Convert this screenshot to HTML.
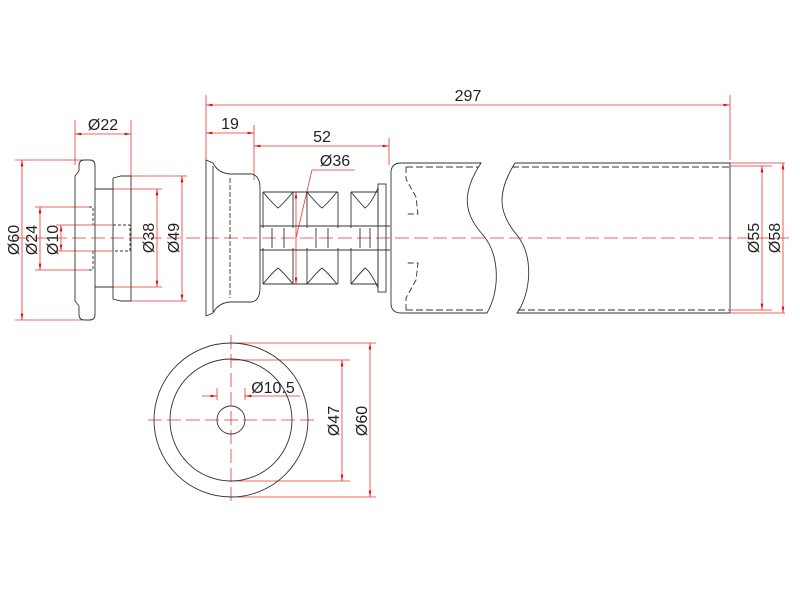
<!DOCTYPE html>
<html><head><style>body{margin:0;background:#fff}svg{display:block}</style></head><body>
<svg width="800" height="600" viewBox="0 0 800 600" xmlns="http://www.w3.org/2000/svg" font-family="Liberation Sans, sans-serif">
<defs>
<marker id="a" viewBox="0 0 10 10" refX="10" refY="5" markerWidth="8" markerHeight="8" orient="auto-start-reverse"><path d="M0,3 L10,5 L0,7z" fill="#e00"/></marker>
</defs>
<g stroke="#e33" stroke-width="0.8" fill="none">
<line x1="15" y1="238" x2="790" y2="238" stroke-dasharray="14,5"/>
<line x1="148" y1="420" x2="315" y2="420" stroke-dasharray="14,5"/>
<line x1="231" y1="335" x2="231" y2="505" stroke-dasharray="14,5"/>
<line x1="206" y1="95" x2="206" y2="160"/><line x1="730" y1="95" x2="730" y2="160"/>
<line x1="254" y1="125" x2="254" y2="180"/><line x1="389" y1="138" x2="389" y2="165"/>
<line x1="75" y1="120" x2="75" y2="165"/><line x1="131" y1="120" x2="131" y2="176"/>
<line x1="15" y1="160" x2="82" y2="160"/><line x1="15" y1="320" x2="82" y2="320"/>
<line x1="35" y1="207" x2="90" y2="207"/><line x1="35" y1="270" x2="90" y2="270"/>
<line x1="56" y1="225" x2="112" y2="225"/><line x1="56" y1="251" x2="112" y2="251"/>
<line x1="113" y1="189" x2="162" y2="189"/><line x1="113" y1="287" x2="162" y2="287"/>
<line x1="131" y1="176" x2="187" y2="176"/><line x1="131" y1="301" x2="187" y2="301"/>
<line x1="730" y1="166" x2="772" y2="166"/><line x1="730" y1="310" x2="772" y2="310"/>
<line x1="730" y1="163" x2="785" y2="163"/><line x1="730" y1="313" x2="785" y2="313"/>
<line x1="231" y1="343" x2="376" y2="343"/><line x1="231" y1="497" x2="376" y2="497"/>
<line x1="231" y1="360" x2="350" y2="360"/><line x1="231" y1="481" x2="350" y2="481"/>
<line x1="202" y1="396" x2="217" y2="396" marker-end="url(#a)"/>
<line x1="300" y1="396" x2="245" y2="396" marker-end="url(#a)"/>
<line x1="217" y1="388" x2="217" y2="400"/><line x1="245" y1="388" x2="245" y2="400"/>
<line x1="296" y1="238" x2="312" y2="170"/><line x1="312" y1="170" x2="355" y2="170"/>
<line x1="206" y1="105" x2="730" y2="105" marker-start="url(#a)" marker-end="url(#a)"/>
<line x1="206" y1="133" x2="254" y2="133" marker-start="url(#a)" marker-end="url(#a)"/>
<line x1="254" y1="146" x2="389" y2="146" marker-start="url(#a)" marker-end="url(#a)"/>
<line x1="75" y1="134" x2="131" y2="134" marker-start="url(#a)" marker-end="url(#a)"/>
<line x1="22" y1="160" x2="22" y2="320" marker-start="url(#a)" marker-end="url(#a)"/>
<line x1="40" y1="207" x2="40" y2="270" marker-start="url(#a)" marker-end="url(#a)"/>
<line x1="61" y1="225" x2="61" y2="251" marker-start="url(#a)" marker-end="url(#a)"/>
<line x1="157" y1="189" x2="157" y2="287" marker-start="url(#a)" marker-end="url(#a)"/>
<line x1="182" y1="176" x2="182" y2="301" marker-start="url(#a)" marker-end="url(#a)"/>
<line x1="296" y1="192" x2="296" y2="284" marker-start="url(#a)" marker-end="url(#a)"/>
<line x1="762" y1="166" x2="762" y2="310" marker-start="url(#a)" marker-end="url(#a)"/>
<line x1="783" y1="163" x2="783" y2="313" marker-start="url(#a)" marker-end="url(#a)"/>
<line x1="342" y1="360" x2="342" y2="481" marker-start="url(#a)" marker-end="url(#a)"/>
<line x1="370" y1="343" x2="370" y2="497" marker-start="url(#a)" marker-end="url(#a)"/>
</g>
<g stroke="#333" stroke-width="0.9" fill="none">
<path d="M84,160 h6 q5,0 5,6 v148 q0,6 -5,6 h-6 q-5,0 -5,-6 v-8 l-4,-5 v-125 l4,-5 v-5 q0,-6 5,-6z"/>
<line x1="95" y1="189" x2="113" y2="189"/><line x1="95" y1="287" x2="113" y2="287"/>
<path d="M113,178 l8,-2 h10 v125 h-10 l-8,-2z"/>
<path d="M113,225 h17 v26 h-17z" stroke-dasharray="3,2"/>
<path d="M89,207 h4 v18 M89,270 h4 v-19" stroke-dasharray="3,2"/>
<path d="M206,160 l7,3 q5,10 17,11 h22 q8,2 8,14 v100 q0,12 -8,14 h-22 q-12,1 -17,11 l-7,3z"/>
<line x1="213" y1="166" x2="213" y2="312"/>
<line x1="230" y1="178" x2="230" y2="298" stroke-dasharray="5,2"/>
<line x1="260" y1="226" x2="390" y2="226"/><line x1="260" y1="250" x2="390" y2="250"/>
<g>
<path d="M263,192 v36 M263,248 v36 M293,192 v36 M293,248 v36 M307,192 v36 M307,248 v36 M338,192 v36 M338,248 v36 M351,192 v36 M351,248 v36 M378,188 v40 M378,248 v40"/>
<path d="M263,192 h75 M263,284 h75 M351,192 h27 M351,284 h27"/>
<path d="M263,192 q10,12 15,16 q5,-4 15,-16 M307,192 q10,12 15,16 q5,-4 15,-16 M351,192 q10,12 14,16 q6,-4 13,-20"/>
<path d="M263,284 q10,-12 15,-16 q5,4 15,16 M307,284 q10,-12 15,-16 q5,4 15,16 M351,284 q10,-12 14,-16 q6,4 13,20"/>
<path d="M272,228 v20 M284,228 v20 M316,228 v20 M328,228 v20 M360,228 v20 M370,228 v20"/>
</g>
<rect x="378" y="184" width="8" height="108"/>
<path d="M481,163 h-80 q-10,0 -10,10 v130 q0,10 10,10 h86 C500,290 500,255 483,235 C465,215 460,195 481,163z"/>
<path d="M515,163 h215 v150 h-213 C530,295 535,258 517,235 C500,215 495,195 515,163z"/>
<path d="M406,167 h72 M512,167 h217 M406,310 h78 M518,310 h211" stroke-dasharray="7,3"/>
<path d="M406,167 v12 l10,18 l2,17 h-12 M406,310 v-12 l10,-18 l2,-17 h-12" stroke-dasharray="6,3"/>
<circle cx="231" cy="420" r="77"/><circle cx="231" cy="420" r="61"/><circle cx="231" cy="420" r="14"/>
</g>
<g fill="#222" font-size="16">
<text x="468" y="101" text-anchor="middle">297</text>
<text x="230" y="129" text-anchor="middle">19</text>
<text x="322" y="142" text-anchor="middle">52</text>
<text x="103" y="130" text-anchor="middle">Ø22</text>
<text x="335" y="166" text-anchor="middle">Ø36</text>
<text x="273" y="393" text-anchor="middle">Ø10.5</text>
<text transform="translate(19,240) rotate(-90)" text-anchor="middle">Ø60</text>
<text transform="translate(37,240) rotate(-90)" text-anchor="middle">Ø24</text>
<text transform="translate(58,240) rotate(-90)" text-anchor="middle">Ø10</text>
<text transform="translate(154,238) rotate(-90)" text-anchor="middle">Ø38</text>
<text transform="translate(179,238) rotate(-90)" text-anchor="middle">Ø49</text>
<text transform="translate(759,238) rotate(-90)" text-anchor="middle">Ø55</text>
<text transform="translate(780,238) rotate(-90)" text-anchor="middle">Ø58</text>
<text transform="translate(339,421) rotate(-90)" text-anchor="middle">Ø47</text>
<text transform="translate(367,421) rotate(-90)" text-anchor="middle">Ø60</text>
</g>
</svg>
</body></html>
